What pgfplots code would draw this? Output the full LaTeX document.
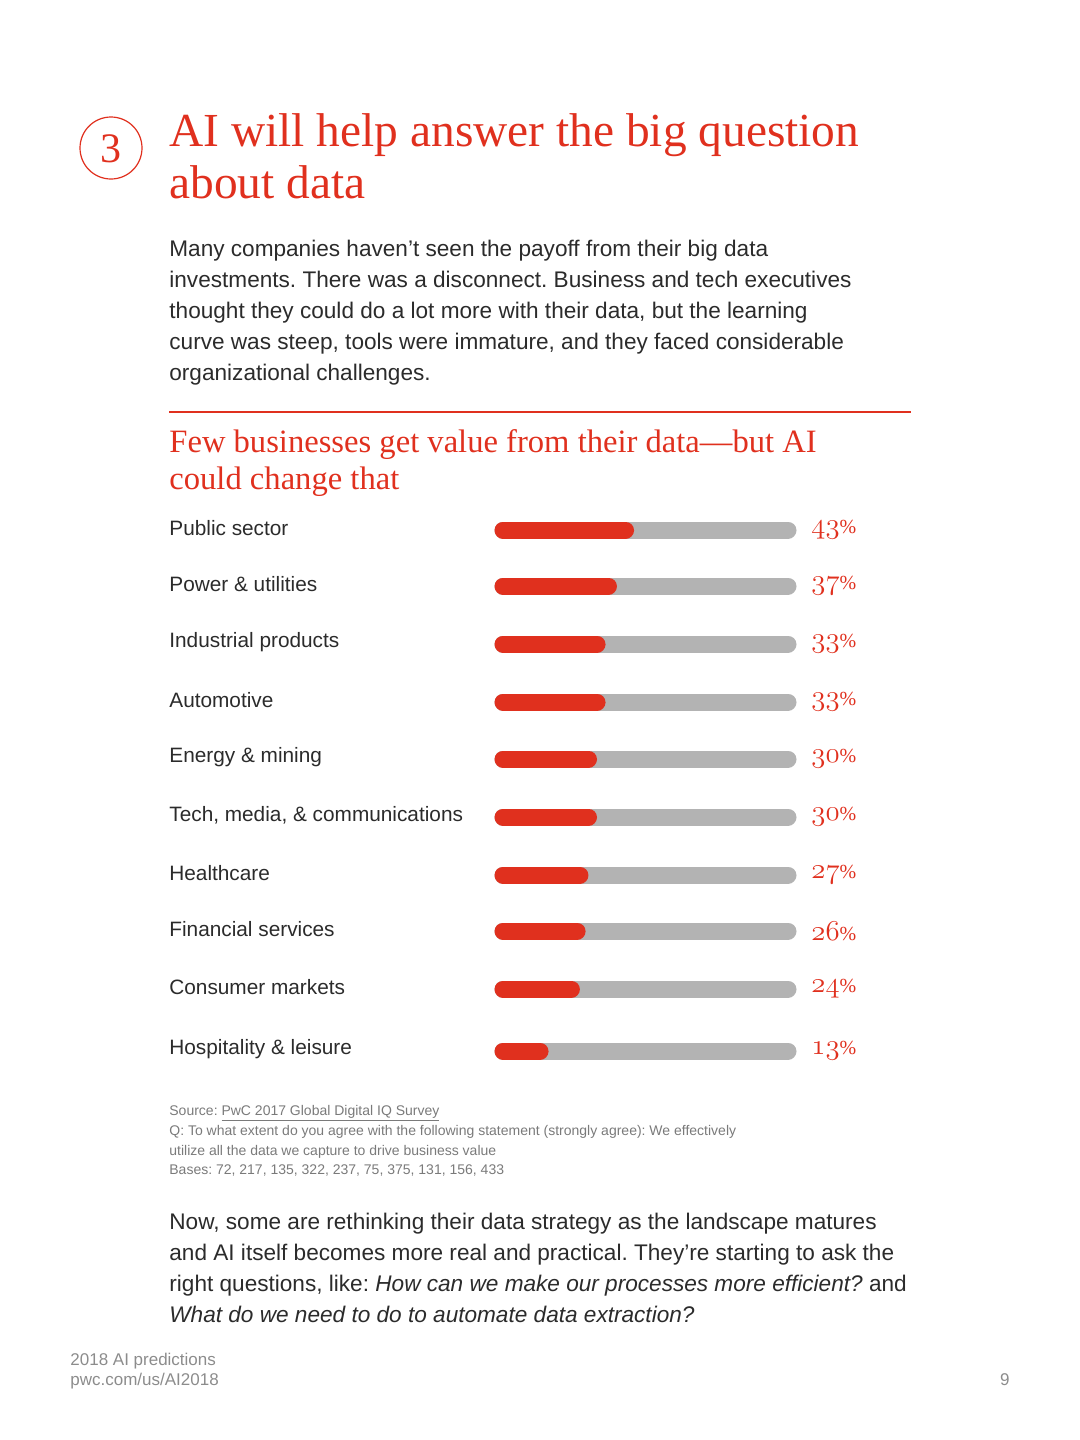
\documentclass[border=0pt]{standalone}
\usepackage{pgfplots}
\pgfplotsset{compat=1.18}
\usepackage{pgfplotstable}
\usepackage{fontspec}
\setmainfont{Liberation Sans}
\newfontfamily\serif{Liberation Serif}
\definecolor{pwcred}{HTML}{E0301E}
\definecolor{bargray}{HTML}{B3B3B3}
\definecolor{bodytext}{HTML}{2B2B2B}
\definecolor{notegray}{HTML}{7A7A7A}
\definecolor{footgray}{HTML}{8C8C8C}
\frenchspacing

% y = bar centre in page pixels, v = share in percent
\pgfplotstableread[col sep=semicolon]{
y;v;label
530;43;Public sector
586;37;Power \& utilities
644;33;Industrial products
702;33;Automotive
759;30;Energy \& mining
817;30;Tech, media, \& communications
875;27;Healthcare
931;26;Financial services
989;24;Consumer markets
1051;13;Hospitality \& leisure
}\bardata

\newcommand{\pct}[1]{{\usefont{OML}{cmm}{m}{it}#1}{\serif\fontsize{10}{10}\selectfont\%}}

\begin{document}
\begin{tikzpicture}[x=0.5pt,y=-0.5pt]
\path (0,0) rectangle (1080,1440);

% heading
\draw[pwcred, line width=0.6pt] (111,148) circle[radius=15.5pt];
\node[text=pwcred, font=\serif\fontsize{21}{21}\selectfont] at (111,149) {3};
\node[anchor=base west, inner sep=0pt, text=pwcred, font=\serif\fontsize{23.7}{26}\selectfont] at (169,146) {AI will help answer the big question};
\node[anchor=base west, inner sep=0pt, text=pwcred, font=\serif\fontsize{23.7}{26}\selectfont] at (169,198) {about data};

% intro
\begin{scope}[every node/.style={anchor=base west, inner sep=0pt, text=bodytext, font=\fontsize{11.3}{15.5}\selectfont}]
\node at (169,256) {Many companies haven’t seen the payoff from their big data};
\node at (169,287) {investments. There was a disconnect. Business and tech executives};
\node at (169,318) {thought they could do a lot more with their data, but the learning};
\node at (169,349) {curve was steep, tools were immature, and they faced considerable};
\node at (169,380) {organizational challenges.};
\end{scope}

\draw[pwcred, line width=1pt] (169,412) -- (911,412);
\node[anchor=base west, inner sep=0pt, text=pwcred, font=\serif\fontsize{16.3}{18}\selectfont] at (169,452) {Few businesses get value from their data—but AI};
\node[anchor=base west, inner sep=0pt, text=pwcred, font=\serif\fontsize{16.3}{18}\selectfont] at (169,489) {could change that};

\coordinate (chartNW) at (494,500);
\begin{axis}[
  at={(chartNW)}, anchor=north west,
  scale only axis, width=151.5pt, height=290pt,
  xmin=-3.158, xmax=103.158,
  ymin=500, ymax=1080, y dir=reverse,
  hide axis, clip=false,
]
\addplot[xcomb, mark=none, draw=bargray, line width=8.5pt, line cap=round] table[x expr=100, y=y] {\bardata};
\addplot[xcomb, mark=none, draw=pwcred, line width=8.5pt, line cap=round] table[x=v, y=y] {\bardata};
\addplot[draw=none, mark=none, point meta=explicit symbolic,
  nodes near coords={\pct{\pgfplotspointmeta}},
  every node near coord/.append style={anchor=west, inner sep=0pt, text=pwcred, font=\fontsize{14}{14}\selectfont}]
  table[x expr=108.1, y=y, meta=v] {\bardata};
\addplot[draw=none, mark=none, point meta=explicit symbolic,
  nodes near coords={\pgfplotspointmeta},
  every node near coord/.append style={anchor=west, inner sep=0pt, text=bodytext, font=\fontsize{10.4}{12}\selectfont, yshift=0.8pt}]
  table[x expr=-117.2, y=y, meta=label] {\bardata};
\end{axis}

% notes
\begin{scope}[every node/.style={anchor=base west, inner sep=0pt, text=notegray, font=\fontsize{7}{9}\selectfont}]
\node at (169,1115) {Source: \underline{PwC 2017 Global Digital IQ Survey}};
\node at (169,1135) {Q: To what extent do you agree with the following statement (strongly agree): We effectively};
\node at (169,1155) {utilize all the data we capture to drive business value};
\node at (169,1174) {Bases: 72, 217, 135, 322, 237, 75, 375, 131, 156, 433};
\end{scope}

\begin{scope}[every node/.style={anchor=base west, inner sep=0pt, text=bodytext, font=\fontsize{11.3}{15.5}\selectfont}]
\node at (169,1229) {Now, some are rethinking their data strategy as the landscape matures};
\node at (169,1260) {and AI itself becomes more real and practical. They’re starting to ask the};
\node at (169,1291) {right questions, like: \textit{How can we make our processes more efficient?} and};
\node at (169,1322) {\textit{What do we need to do to automate data extraction?}};
\end{scope}

% footer
\begin{scope}[every node/.style={inner sep=0pt, text=footgray, font=\fontsize{8.5}{10}\selectfont}]
\node[anchor=base west] at (70,1365) {2018 AI predictions};
\node[anchor=base west] at (70,1385) {pwc.com/us/AI2018};
\node[anchor=base east] at (1010,1385) {9};
\end{scope}
\end{tikzpicture}
\end{document}
